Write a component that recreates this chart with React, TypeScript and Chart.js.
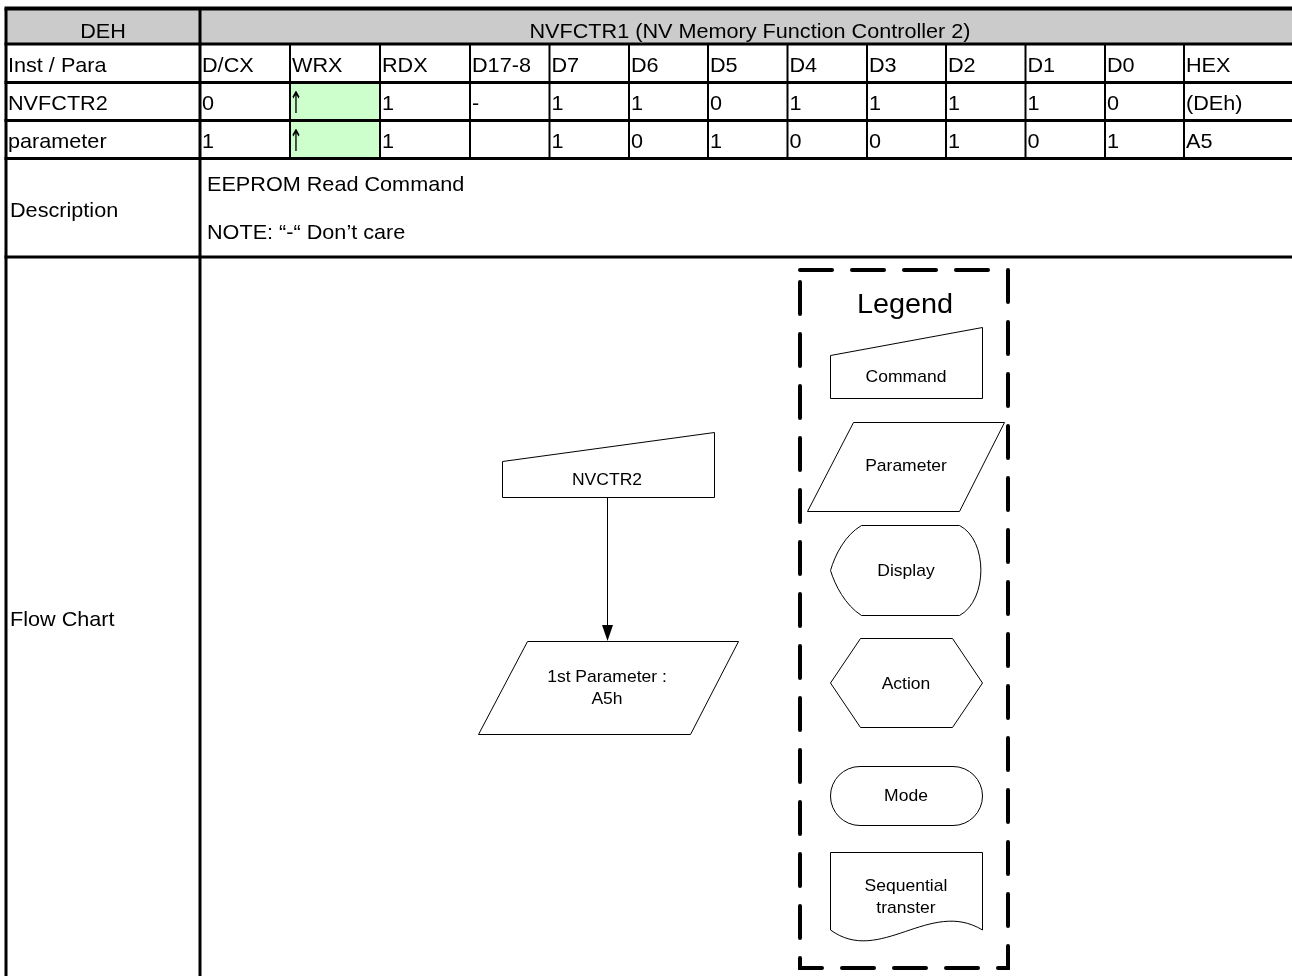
import React, { useEffect, useRef } from "react";
import { Chart, registerables } from "chart.js";

Chart.register(...registerables);

// ---------- content ----------
const HEADER_LEFT = "DEH";
const HEADER_TITLE = "NVFCTR1 (NV Memory Function Controller 2)";
const ROW_LABELS = ["Inst / Para", "NVFCTR2", "parameter"];
const COLUMNS = ["D/CX", "WRX", "RDX", "D17-8", "D7", "D6", "D5", "D4", "D3", "D2", "D1", "D0", "HEX"];
const NVFCTR2_VALUES = ["0", "↑", "1", "-", "1", "1", "0", "1", "1", "1", "1", "0", "(DEh)"];
const PARAMETER_VALUES = ["1", "↑", "1", "", "1", "0", "1", "0", "0", "1", "0", "1", "A5"];
const HIGHLIGHT_COLUMN = "WRX";
const DESCRIPTION_LABEL = "Description";
const DESCRIPTION_LINES = ["EEPROM Read Command", "NOTE: “-“ Don’t care"];
const FLOW_LABEL = "Flow Chart";
const FLOW_COMMAND = "NVCTR2";
const FLOW_PARAMETER = ["1st Parameter :", "A5h"];
const LEGEND_TITLE = "Legend";
const LEGEND_ITEMS = ["Command", "Parameter", "Display", "Action", "Mode", "Sequential\ntranster"];

// ---------- layout (in scale units, 1 unit = 1 px) ----------
const W = 1292;
const H = 976;
const COL_EDGES = [6, 200, 290, 380, 470, 549.5, 629, 708, 787.5, 867, 946, 1025.5, 1105, 1184, 1300];
const ROW_EDGES = [8.5, 44, 82.5, 120.5, 158.5, 257, 990];
const ROW_BASELINES = [38, 72, 110, 148];
const FONT = '"Liberation Sans", Arial, sans-serif';
const SX = 1.03;

const App: React.FC = () => {
  const ref = useRef<HTMLCanvasElement | null>(null);

  useEffect(() => {
    const canvas = ref.current;
    if (!canvas) return;

    const tablePlugin = {
      id: "tableDrawer",
      afterDraw(chart: any) {
        const ctx: CanvasRenderingContext2D = chart.ctx;
        const xs = chart.scales.x;
        const ys = chart.scales.y;
        const px = (v: number) => xs.getPixelForValue(v);
        const py = (v: number) => ys.getPixelForValue(v);

        const text = (
          t: string,
          x: number,
          y: number,
          size: number,
          align: CanvasTextAlign = "left",
          family: string = FONT,
          sx: number = SX
        ) => {
          ctx.save();
          ctx.font = `${size}px ${family}`;
          ctx.fillStyle = "#000";
          ctx.textBaseline = "alphabetic";
          ctx.textAlign = align;
          ctx.translate(px(x), py(y));
          ctx.scale(sx, 1);
          ctx.fillText(t, 0, 0);
          ctx.restore();
        };
        const line = (x1: number, y1: number, x2: number, y2: number, w: number) => {
          ctx.save();
          ctx.strokeStyle = "#000";
          ctx.lineWidth = w;
          ctx.beginPath();
          ctx.moveTo(px(x1), py(y1));
          ctx.lineTo(px(x2), py(y2));
          ctx.stroke();
          ctx.restore();
        };
        const fillRect = (x1: number, y1: number, x2: number, y2: number, c: string) => {
          ctx.fillStyle = c;
          ctx.fillRect(px(x1), py(y1), px(x2) - px(x1), py(y2) - py(y1));
        };

        // background
        fillRect(0, 0, W, H, "#ffffff");
        // header fill
        fillRect(COL_EDGES[0], ROW_EDGES[0], COL_EDGES[COL_EDGES.length - 1], ROW_EDGES[1], "#cbcbcb");
        // highlight cells
        const hi = COLUMNS.indexOf(HIGHLIGHT_COLUMN);
        fillRect(COL_EDGES[hi + 1], ROW_EDGES[2], COL_EDGES[hi + 2], ROW_EDGES[4], "#ccffcc");

        // horizontal lines
        ROW_EDGES.slice(0, 6).forEach((y, i) => {
          line(COL_EDGES[0] - 1.5, y, COL_EDGES[COL_EDGES.length - 1], y, i === 0 ? 4 : 3);
        });
        // outer left + main separator
        line(COL_EDGES[0], ROW_EDGES[0], COL_EDGES[0], H + 10, 3);
        line(COL_EDGES[1], ROW_EDGES[0], COL_EDGES[1], H + 10, 3);
        // data columns
        for (let c = 2; c < COL_EDGES.length - 1; c++) {
          line(COL_EDGES[c], ROW_EDGES[1], COL_EDGES[c], ROW_EDGES[4], 2);
        }

        // header text
        text(HEADER_LEFT, (COL_EDGES[0] + COL_EDGES[1]) / 2, ROW_BASELINES[0], 21, "center");
        text(HEADER_TITLE, (COL_EDGES[1] + COL_EDGES[COL_EDGES.length - 1]) / 2, ROW_BASELINES[0], 21, "center");

        // rows
        const rows = [COLUMNS, NVFCTR2_VALUES, PARAMETER_VALUES];
        rows.forEach((vals, r) => {
          const by = ROW_BASELINES[r + 1];
          text(ROW_LABELS[r], COL_EDGES[0] + 2, by, 21);
          vals.forEach((v, c) => {
            if (!v) return;
            if (v === "↑") {
              text(v, COL_EDGES[c + 1] + 6, by + 3, 30, "center", '"DejaVu Sans", sans-serif', 0.55);
            } else {
              text(v, COL_EDGES[c + 1] + 2, by, 21);
            }
          });
        });

        // description
        text(DESCRIPTION_LABEL, 10, 217, 21);
        text(DESCRIPTION_LINES[0], 207, 191, 21);
        text(DESCRIPTION_LINES[1], 207, 239, 21);
        // flow chart label
        text(FLOW_LABEL, 10, 626, 21);

        // ---- flow chart shapes ----
        ctx.save();
        ctx.strokeStyle = "#000";
        ctx.lineWidth = 1;
        const path = (pts: number[][]) => {
          ctx.beginPath();
          pts.forEach((p, i) => (i === 0 ? ctx.moveTo(px(p[0]), py(p[1])) : ctx.lineTo(px(p[0]), py(p[1]))));
          ctx.closePath();
          ctx.stroke();
        };
        // command NVCTR2
        path([[502.5, 461.5], [714.5, 432.5], [714.5, 497.5], [502.5, 497.5]]);
        // arrow
        ctx.beginPath();
        ctx.moveTo(px(607.5), py(497.5));
        ctx.lineTo(px(607.5), py(628));
        ctx.stroke();
        ctx.fillStyle = "#000";
        ctx.beginPath();
        ctx.moveTo(px(602), py(625));
        ctx.lineTo(px(613), py(625));
        ctx.lineTo(px(607.5), py(641));
        ctx.closePath();
        ctx.fill();
        // parameter
        path([[527.5, 641.5], [738.5, 641.5], [690.5, 734.5], [478.5, 734.5]]);

        // legend shapes
        path([[830.5, 355.5], [982.5, 327.5], [982.5, 398.5], [830.5, 398.5]]);
        path([[853.5, 422.5], [1004.5, 422.5], [959.5, 511.5], [807.5, 511.5]]);
        // display
        ctx.beginPath();
        ctx.moveTo(px(861.5), py(525.5));
        ctx.lineTo(px(959.5), py(525.5));
        ctx.bezierCurveTo(px(988), py(540), px(988), py(600), px(959.5), py(615.5));
        ctx.lineTo(px(861.5), py(615.5));
        ctx.bezierCurveTo(px(845), py(605), px(835), py(585), px(830.5), py(570.5));
        ctx.bezierCurveTo(px(835), py(555), px(845), py(535), px(861.5), py(525.5));
        ctx.stroke();
        // action
        path([[830.5, 683], [860.5, 638.5], [952.5, 638.5], [982.5, 683], [952.5, 727.5], [860.5, 727.5]]);
        // mode
        ctx.beginPath();
        const r = 29.5;
        ctx.moveTo(px(860), py(766.5));
        ctx.lineTo(px(953), py(766.5));
        ctx.arc(px(953), py(796), r, -Math.PI / 2, Math.PI / 2);
        ctx.lineTo(px(860), py(825.5));
        ctx.arc(px(860), py(796), r, Math.PI / 2, (3 * Math.PI) / 2);
        ctx.closePath();
        ctx.stroke();
        // sequential transfer (document)
        ctx.beginPath();
        ctx.moveTo(px(830.5), py(930));
        ctx.lineTo(px(830.5), py(852.5));
        ctx.lineTo(px(982.5), py(852.5));
        ctx.lineTo(px(982.5), py(930));
        ctx.bezierCurveTo(px(930), py(898), px(880), py(966), px(830.5), py(930));
        ctx.stroke();

        // dashed legend frame
        ctx.lineWidth = 4;
        ctx.lineCap = "round";
        ctx.setLineDash([32, 20]);
        ctx.beginPath();
        ctx.rect(px(800), py(270), px(1008) - px(800), py(968) - py(270));
        ctx.stroke();
        ctx.restore();

        // flow chart texts
        text(FLOW_COMMAND, 607, 485, 17, "center");
        text(FLOW_PARAMETER[0], 607, 682, 17, "center");
        text(FLOW_PARAMETER[1], 607, 704, 17, "center");
        text(LEGEND_TITLE, 905, 313, 28, "center");
        const legendBaselines = [382, 471, 576, 689, 801, 891];
        LEGEND_ITEMS.forEach((it, i) => {
          it.split("\n").forEach((ln, j) => text(ln, 906, legendBaselines[i] + j * 22, 17, "center"));
        });
      },
    };

    const chart = new Chart(canvas, {
      type: "scatter",
      data: { datasets: [{ data: [], pointRadius: 0 }] },
      options: {
        responsive: false,
        animation: false,
        devicePixelRatio: 1,
        layout: { padding: 0 },
        plugins: { legend: { display: false }, tooltip: { enabled: false } },
        scales: {
          x: { type: "linear", min: 0, max: W, display: false },
          y: { type: "linear", min: 0, max: H, reverse: true, display: false },
        },
      },
      plugins: [tablePlugin],
    });
    return () => chart.destroy();
  }, []);

  return (
    <div style={{ position: "absolute", left: 0, top: 0, width: W, height: H, background: "#fff" }}>
      <canvas ref={ref} width={W} height={H} style={{ display: "block" }} />
    </div>
  );
};

export default App;
